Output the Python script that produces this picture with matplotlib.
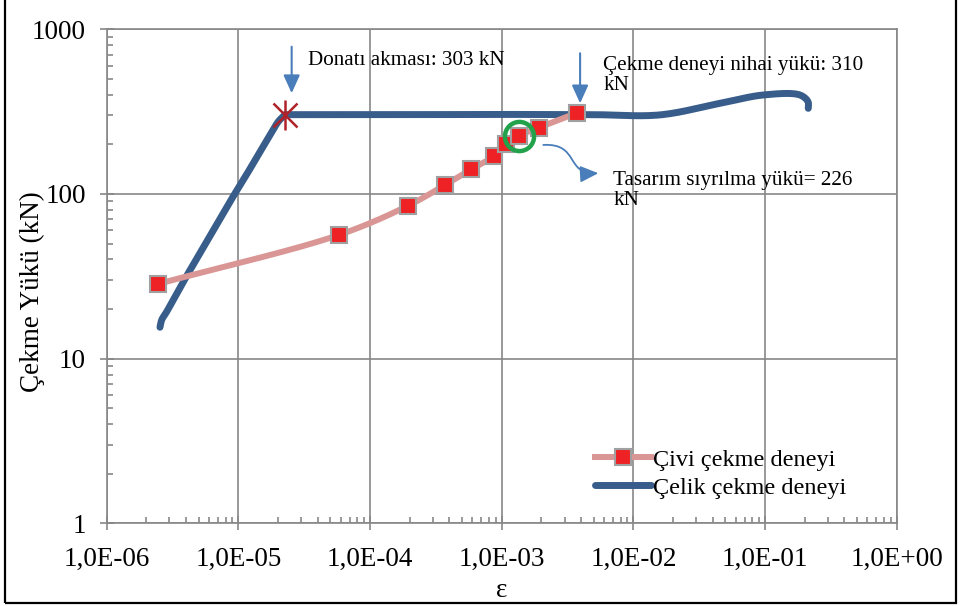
import numpy as np
import matplotlib
matplotlib.use("Agg")
import matplotlib.pyplot as plt
from matplotlib.ticker import FixedLocator, LogLocator, FuncFormatter, NullFormatter
from matplotlib.lines import Line2D
from matplotlib.patches import Rectangle, FancyArrowPatch
from matplotlib.path import Path

plt.rcParams['font.family'] = ['Liberation Serif', 'DejaVu Serif']

# çivi çekme deneyi (pull-out test)
civi_strain = [2.45e-6, 5.81e-5, 1.95e-4, 3.71e-4, 5.85e-4, 8.79e-4, 1.07e-3, 1.36e-3, 1.91e-3, 3.72e-3]
civi_load = [28.4, 56.4, 84.9, 113.4, 141, 170, 200, 226, 253, 310]

# çelik çekme deneyi (steel tensile test): elastic branch up to yield, then the rest
celik_strain_el = [2.54e-6, 2.62e-6, 2.86e-6, 3.82e-6, 5.11e-6, 6.84e-6, 9.15e-6, 1.157e-5,
                   1.46e-5, 1.74e-5, 2.01e-5, 2.26e-5]
celik_load_el = [15.5, 17.2, 19.3, 29.3, 43.6, 65.0, 96.8, 131.5,
                 180, 228, 274.8, 303]
celik_strain_pl = [2.26e-5, 6.0e-5, 2.0e-4, 1.0e-3, 5.0e-3, 1.59e-2, 4.55e-2, 9.7e-2,
                   1.84e-1, 2.12e-1, 2.13e-1]
celik_load_pl = [303, 303, 303, 304, 303, 302, 355, 399, 399, 363, 331]

yield_strain, yield_load = 2.26e-5, 303
design_strain, design_load = 1.36e-3, 226

x_ticks = [1e-6, 1e-5, 1e-4, 1e-3, 1e-2, 1e-1, 1e0]
x_labels = ['1,0E-06', '1,0E-05', '1,0E-04', '1,0E-03', '1,0E-02', '1,0E-01', '1,0E+00']
y_ticks = [1, 10, 100, 1000]
y_labels = ['1', '10', '100', '1000']


def smooth(x, y, n=24, yscale=1.25):
    # centripetal catmull-rom in log-log space (smoothed line)
    pts = np.column_stack([np.log10(x), np.log10(y) * yscale])
    pts = np.vstack([2 * pts[0] - pts[1], pts, 2 * pts[-1] - pts[-2]])
    out = []
    for i in range(1, len(pts) - 2):
        p0, p1, p2, p3 = pts[i - 1:i + 3]
        t0 = 0.0
        t1 = t0 + np.linalg.norm(p1 - p0) ** 0.5
        t2 = t1 + np.linalg.norm(p2 - p1) ** 0.5
        t3 = t2 + np.linalg.norm(p3 - p2) ** 0.5
        t = np.linspace(t1, t2, n, endpoint=False)[:, None]
        a1 = (t1 - t) / (t1 - t0) * p0 + (t - t0) / (t1 - t0) * p1
        a2 = (t2 - t) / (t2 - t1) * p1 + (t - t1) / (t2 - t1) * p2
        a3 = (t3 - t) / (t3 - t2) * p2 + (t - t2) / (t3 - t2) * p3
        b1 = (t2 - t) / (t2 - t0) * a1 + (t - t0) / (t2 - t0) * a2
        b2 = (t3 - t) / (t3 - t1) * a2 + (t - t1) / (t3 - t1) * a3
        out.append((t2 - t) / (t2 - t1) * b1 + (t - t1) / (t2 - t1) * b2)
    out.append(pts[-2][None])
    out = np.vstack(out)
    return 10 ** out[:, 0], 10 ** (out[:, 1] / yscale)


fig = plt.figure(figsize=(9.61, 6.06), dpi=100)
ax = fig.add_axes([0.111, 0.1365, 0.8221, 0.8152])

grid_c = '#878787'
pink = '#d99694'
blue = '#385d8a'
arrow_c = '#4a7ebb'

ex, ey = smooth(celik_strain_el, celik_load_el)
lx, ly = smooth(celik_strain_pl, celik_load_pl)
ax.plot(np.r_[ex, lx[1:]], np.r_[ey, ly[1:]], color=blue, lw=5,
        solid_capstyle='round', solid_joinstyle='round', zorder=3)

px, py = smooth(civi_strain, civi_load)
ax.plot(px, py, color=pink, lw=4.3, solid_capstyle='round', zorder=4)
ax.plot(civi_strain, civi_load, ls='none', marker='s', ms=11, mfc='#ee2224',
        mec='#a0a0a0', mew=1.5, zorder=5)

ax.plot(yield_strain, yield_load, marker='x', ms=17, mew=1.8, color='#b0222a', zorder=6)
ax.plot(yield_strain, yield_load, marker='|', ms=21, mew=1.8, color='#b0222a', zorder=6)
ax.plot(design_strain, design_load, marker='o', ms=21, mfc='none', mec='#22a24a', mew=3.2, zorder=7)

ax.set_xscale('log')
ax.set_yscale('log')
ax.set_xlim(1e-6, 1)
ax.set_ylim(1, 1000)

ax.xaxis.set_major_locator(FixedLocator(x_ticks))
ax.xaxis.set_major_formatter(FuncFormatter(lambda v, p: x_labels[int(round(np.log10(v))) + 6]))
ax.yaxis.set_major_locator(FixedLocator(y_ticks))
ax.yaxis.set_major_formatter(FuncFormatter(lambda v, p: y_labels[int(round(np.log10(v)))]))
ax.xaxis.set_minor_locator(LogLocator(base=10, subs=np.arange(2, 10), numticks=20))
ax.yaxis.set_minor_locator(LogLocator(base=10, subs=np.arange(2, 10), numticks=20))
ax.xaxis.set_minor_formatter(NullFormatter())
ax.yaxis.set_minor_formatter(NullFormatter())

ax.tick_params(which='major', direction='inout', length=10, width=1.2, color=grid_c,
               labelsize=19.5)
ax.tick_params(which='minor', direction='in', length=4, width=1.2, color=grid_c)
ax.tick_params(axis='x', which='major', pad=12)
ax.tick_params(axis='y', which='major', pad=10)
ax.grid(True, which='major', color=grid_c, lw=1.2)
for s in ax.spines.values():
    s.set_color(grid_c)
    s.set_linewidth(1.2)
ax.set_axisbelow(True)

ax.set_ylabel('Çekme Yükü (kN)', fontsize=19.5)
ax.yaxis.set_label_coords(-0.078, 0.468)
ax.set_xlabel('ε', fontsize=19.5)
ax.xaxis.set_label_coords(0.5, -0.11)

# annotations
head = '-|>,head_length=1.1,head_width=0.5'
ax.annotate('', xy=(2.54e-5, 409), xytext=(2.54e-5, 784),
            arrowprops=dict(arrowstyle=head, color=arrow_c, lw=1.5,
                            mutation_scale=10, shrinkA=0, shrinkB=0))
ax.text(3.38e-5, 642, 'Donatı akması: 303 kN', fontsize=15.2, va='center', ha='left')

ax.annotate('', xy=(3.94e-3, 355), xytext=(3.94e-3, 715),
            arrowprops=dict(arrowstyle=head, color=arrow_c, lw=1.5,
                            mutation_scale=10, shrinkA=0, shrinkB=0))
ax.text(5.92e-3, 522, 'Çekme deneyi nihai yükü: 310\nkN', fontsize=15.2, va='center', ha='left',
        linespacing=1.05)

curve = Path([(2.07e-3, 198.4), (3.93e-3, 204), (3.02e-3, 130.4), (5.42e-3, 133.6)],
             [Path.MOVETO, Path.CURVE4, Path.CURVE4, Path.CURVE4])
ax.add_patch(FancyArrowPatch(path=curve, arrowstyle=head, color=arrow_c, lw=1.3,
                             mutation_scale=10, transform=ax.transData, zorder=6))
ax.text(7.05e-3, 104.6, 'Tasarım sıyrılma yükü= 226\nkN', fontsize=15.2, va='center', ha='left',
        linespacing=1.05)

handles = [Line2D([], [], color=pink, lw=4.3, marker='s', ms=11, mfc='#ee2224', mec='#a0a0a0', mew=1.5),
           Line2D([], [], color=blue, lw=5, solid_capstyle='round')]
ax.legend(handles, ['Çivi çekme deneyi', 'Çelik çekme deneyi'], loc='center left',
          bbox_to_anchor=(0.619, 0.218), bbox_transform=fig.transFigure, frameon=False,
          fontsize=17.5, handlelength=2.3, handletextpad=0.1, labelspacing=0.25,
          borderpad=0, borderaxespad=0)

fig.patches.append(Rectangle((0.005, 0.005), 0.99, 1.2, transform=fig.transFigure,
                             fill=False, ec='black', lw=1.6))

fig.savefig('out.png', dpi=100)
